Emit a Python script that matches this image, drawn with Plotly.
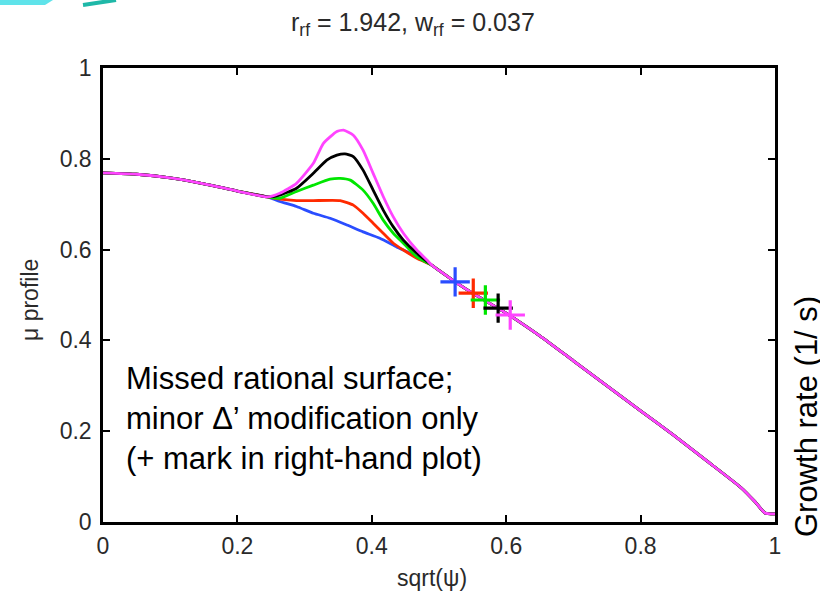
import plotly.graph_objects as go

# ---------------- data ----------------
x_left = [0.0, 0.05, 0.10, 0.15, 0.20, 0.245]
y_left = [0.769, 0.766, 0.758, 0.745, 0.729, 0.716]

x_right = [0.49, 0.50, 0.524, 0.55, 0.60, 0.65, 0.70, 0.75, 0.80, 0.85, 0.90, 0.95, 0.97, 0.985, 1.0]
y_right = [0.565, 0.554, 0.529, 0.504, 0.460, 0.410, 0.355, 0.300, 0.245, 0.190, 0.133, 0.075, 0.045, 0.020, 0.018]

blue_x = [0.263, 0.288, 0.313, 0.338, 0.363, 0.387, 0.412, 0.437, 0.462]
blue_y = [0.706, 0.695, 0.680, 0.669, 0.654, 0.639, 0.625, 0.606, 0.588]

red_x = [0.263, 0.288, 0.313, 0.353, 0.3725, 0.387, 0.402, 0.417, 0.432, 0.447, 0.467]
red_y = [0.711, 0.708, 0.708, 0.708, 0.698, 0.680, 0.658, 0.636, 0.614, 0.599, 0.581]

green_x = [0.263, 0.288, 0.313, 0.338, 0.353, 0.368, 0.387, 0.402, 0.417, 0.432, 0.447, 0.467]
green_y = [0.713, 0.728, 0.742, 0.755, 0.757, 0.753, 0.731, 0.702, 0.665, 0.636, 0.614, 0.584]

black_x = [0.263, 0.288, 0.313, 0.333, 0.348, 0.360, 0.3725, 0.387, 0.402, 0.417, 0.432, 0.447, 0.467]
black_y = [0.720, 0.735, 0.768, 0.797, 0.808, 0.811, 0.805, 0.775, 0.731, 0.687, 0.650, 0.621, 0.592]

magenta_x = [0.263, 0.288, 0.313, 0.328, 0.348, 0.358, 0.3725, 0.387, 0.402, 0.417, 0.432, 0.447, 0.467, 0.482]
magenta_y = [0.724, 0.746, 0.790, 0.834, 0.860, 0.863, 0.852, 0.819, 0.768, 0.717, 0.672, 0.636, 0.599, 0.577]

# rational-surface "+" marks
mark_x = [0.524, 0.551, 0.569, 0.588, 0.606]
mark_y = [0.529, 0.504, 0.489, 0.471, 0.456]

series_names = ["blue", "red", "green", "black", "magenta"]
series_colors = ["#2a4dff", "#ff2a00", "#00e600", "#000000", "#ff44ff"]
series_mid = [(blue_x, blue_y), (red_x, red_y), (green_x, green_y),
              (black_x, black_y), (magenta_x, magenta_y)]

title_text = "r<sub>rf</sub> = 1.942, w<sub>rf</sub> = 0.037"
xlabel = "sqrt(\u03c8)"
ylabel = "\u03bc profile"
note_lines = ["Missed rational surface;",
              "minor \u0394\u2019 modification only",
              "(+ mark in right-hand plot)"]
right_text = "Growth rate (1/ s)"

tick_vals = [0, 0.2, 0.4, 0.6, 0.8, 1]
tick_text = ["0", "0.2", "0.4", "0.6", "0.8", "1"]

# ---------------- layout geometry ----------------
W, H = 820, 603
L, R, T, B = 103, 775, 68, 522  # plot area in pixels


def px(x):
    return (x - L) / (R - L)


def py(y):
    return (B - y) / (B - T)


FONT = "Liberation Sans, Arial, Helvetica, sans-serif"
GREY = "#2a2a2a"

fig = go.Figure()

for name, col, (mx, my) in zip(series_names, series_colors, series_mid):
    fig.add_trace(go.Scatter(
        x=x_left + mx + x_right,
        y=y_left + my + y_right,
        mode="lines",
        line=dict(color=col, width=2.8, shape="spline", smoothing=0.5),
        name=name,
        showlegend=False,
        hoverinfo="skip",
    ))

for i, col in enumerate(series_colors):
    fig.add_trace(go.Scatter(
        x=[mark_x[i]], y=[mark_y[i]],
        mode="markers",
        marker=dict(symbol="cross-thin", size=21, line=dict(color=col, width=3.2)),
        showlegend=False,
        hoverinfo="skip",
    ))

axis_common = dict(
    showgrid=False, zeroline=False,
    showline=True, linecolor="black", linewidth=2.5,
    mirror="ticks", ticks="inside", ticklen=7, tickwidth=2, tickcolor="black",
    tickfont=dict(family=FONT, size=23, color=GREY),
    tickvals=tick_vals, ticktext=tick_text,
)

fig.update_layout(
    width=W, height=H,
    margin=dict(l=L, r=W - R, t=T, b=H - B, pad=0),
    paper_bgcolor="white", plot_bgcolor="white",
    xaxis=dict(range=[0, 1], ticklabelstandoff=2, **axis_common),
    yaxis=dict(range=[0, 1], ticklabelstandoff=4, **axis_common),
    showlegend=False,
)

annots = [
    dict(text=title_text, x=px(413), y=py(24), font=dict(family=FONT, size=25, color=GREY)),
    dict(text=xlabel, x=px(432), y=py(578), font=dict(family=FONT, size=23, color=GREY)),
    dict(text=ylabel, x=px(30), y=py(300), textangle=-90, font=dict(family=FONT, size=23, color=GREY)),
    dict(text=right_text, x=px(806), y=py(417), textangle=-90, font=dict(family=FONT, size=31, color="black")),
]
for i, line in enumerate(note_lines):
    annots.append(dict(text=line, x=px(124), y=py(378 + 40 * i), xanchor="left",
                       font=dict(family=FONT, size=31, color="black")))

for a in annots:
    a.setdefault("xanchor", "center")
    fig.add_annotation(xref="paper", yref="paper", yanchor="middle", showarrow=False, **a)

# decorative slide elements at the top-left
fig.add_shape(type="path", xref="paper", yref="paper",
              path=f"M {px(0)},{py(0)} L {px(53)},{py(0)} L {px(45)},{py(5)} L {px(0)},{py(5)} Z",
              fillcolor="#5fe3ea", line=dict(width=0), layer="above")
fig.add_shape(type="line", xref="paper", yref="paper",
              x0=px(83), y0=py(5), x1=px(116), y1=py(0),
              line=dict(color="#1fb8a8", width=4), layer="above")

fig.write_html("out.html")
